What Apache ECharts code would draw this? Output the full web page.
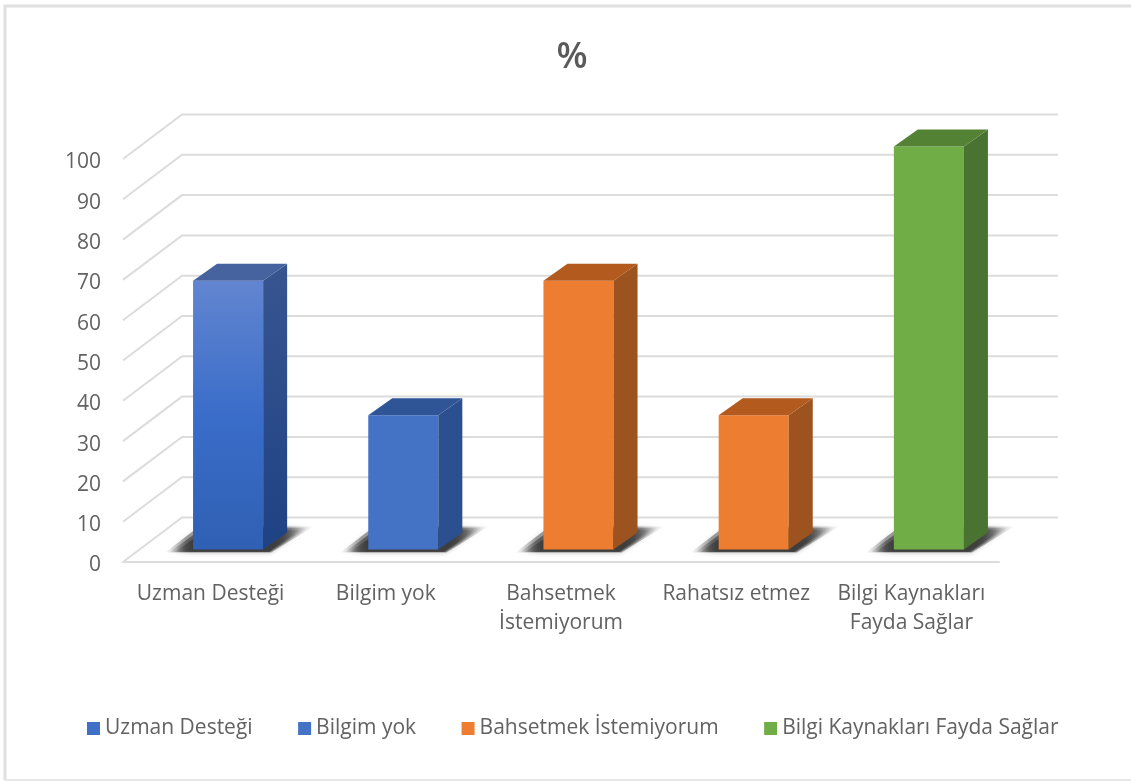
<!DOCTYPE html>
<html><head><meta charset="utf-8">
<style>html,body{margin:0;padding:0;background:#fff}#c{width:1131px;height:781px;filter:blur(0.45px)}</style>
<script src="https://cdn.jsdelivr.net/npm/echarts@6/dist/echarts.min.js"></script>
</head><body><div id="c"></div>
<script>
const titleText = '%';
const categories = ['Uzman Desteği','Bilgim yok','Bahsetmek\nİstemiyorum','Rahatsız etmez','Bilgi Kaynakları\nFayda Sağlar'];
const seriesNames = ['Uzman Desteği','Bilgim yok','Bahsetmek İstemiyorum','Rahatsız etmez','Bilgi Kaynakları Fayda Sağlar'];
const legendNames = ['Uzman Desteği','Bilgim yok','Bahsetmek İstemiyorum','Bilgi Kaynakları Fayda Sağlar'];
const values = [66.67,33.33,66.67,33.33,100];
const yTicks = [0,10,20,30,40,50,60,70,80,90,100];

const FONT = '"Open Sans", sans-serif';
const TXT = '#626262', GRID = '#dcdcdc';
const WALL_DX = 59, WALL_DY = -44.5;   // perspective depth of the plot box
const BAR_IN_X = 17.5, BAR_IN_Y = 12.5; // bar inset from the front of the floor
const BAR_DX = 24, BAR_DY = -17;        // bar depth
const SHADOW_LAYERS = [[0,.45],[4,.6],[8,.8]]; // inset, opacity of the soft floor shadow
const palette = [
  {legend:'#3f6fc6', front:{type:'linear',x:0,y:0,x2:0,y2:1,colorStops:[{offset:0,color:'#6285d0'},{offset:.5,color:'#3a6dc9'},{offset:1,color:'#2f60b4'}]},
   side:{type:'linear',x:0,y:0,x2:0,y2:1,colorStops:[{offset:0,color:'#385590'},{offset:1,color:'#1f4284'}]}, top:'#46639f'},
  {legend:'#4472c4', front:'#4472c4', side:'#2c4f8f', top:'#2f5597'},
  {legend:'#ed7d31', front:'#ed7d31', side:'#9c531f', top:'#b35a1f'},
  {legend:'#ed7d31', front:'#ed7d31', side:'#9c531f', top:'#b35a1f'},
  {legend:'#70ad47', front:'#70ad47', side:'#4a7230', top:'#548235'}
];

function wallItem(params, api){
  const cs = params.coordSys;
  const y = api.coord([0, api.value(0)])[1];
  const x0 = cs.x, bx = x0 + WALL_DX, by = y + WALL_DY, ex = cs.x + cs.width + WALL_DX;
  const style = {stroke:GRID, lineWidth:2, fill:null};
  return {type:'polyline', silent:true, shape:{points:[[x0,y],[bx,by],[ex,by]]}, style};
}
function barItem(pal){
  return function(params, api){
    const cat = api.value(0), val = api.value(1);
    const w = api.size([1,0])[0]*0.4;
    const c = api.coord([cat,val]), b = api.coord([cat,0]);
    const l = c[0]+BAR_IN_X-w/2, r = l+w, t = c[1]-BAR_IN_Y, bt = b[1]-BAR_IN_Y;
    const poly = (pts,fill)=>({type:'polygon',shape:{points:pts},style:{fill}});
    const shadows = SHADOW_LAYERS.map(([e,a])=>({type:'polygon',
      shape:{points:[[l-28+e*1.2,bt+3-e*.1],[r+8-e*.3,bt+3-e*.1],[r+50-e*1.6,bt-23+e*.4],[l+6+e,bt-23+e*.4]]},
      style:{fill:{type:'linear',x:0,y:0,x2:1,y2:0,colorStops:[
          {offset:0,color:'rgba(55,55,55,0)'},{offset:.14,color:'rgba(55,55,55,'+a+')'},
          {offset:.8,color:'rgba(55,55,55,'+a+')'},{offset:1,color:'rgba(55,55,55,0)'}]},
        shadowBlur:5,shadowColor:'rgba(90,90,90,.3)'}}));
    return {type:'group',children:shadows.concat([
      poly([[l,t],[r,t],[r,bt],[l,bt]],pal.front),
      poly([[r,t],[r+BAR_DX,t+BAR_DY],[r+BAR_DX,bt+BAR_DY],[r,bt]],pal.side),
      poly([[l,t],[l+BAR_DX,t+BAR_DY],[r+BAR_DX,t+BAR_DY],[r,t]],pal.top)
    ])};
  };
}
const wallSeries = {type:'custom',name:'wall',silent:true,z:1,clip:false,
  data:yTicks.map(v=>[v]),encode:{y:0},renderItem:wallItem};
const barSeries = seriesNames.map((n,i)=>({
  type:'custom',name:n,z:3,clip:false,
  itemStyle:{color:palette[i].legend},
  data:[[i,values[i]]],encode:{x:0,y:1},renderItem:barItem(palette[i])
}));
const chart = echarts.init(document.getElementById('c'),null,{renderer:'canvas'});
chart.setOption({
  animation:false,backgroundColor:'#fff',
  title:{text:titleText,left:567,top:35,textAlign:'center',
    textStyle:{fontFamily:FONT,fontSize:36,fontWeight:600,color:'#5a5a5a'}},
  legend:{data:legendNames,left:82,top:713,itemWidth:13,itemHeight:13,itemGap:45.5,icon:'rect',
    textStyle:{fontFamily:FONT,fontSize:21,color:TXT}},
  grid:{left:123,top:159,width:876,height:403,containLabel:false},
  xAxis:{type:'category',data:categories,
    axisLine:{show:true,lineStyle:{color:GRID,width:2}},axisTick:{show:false},splitLine:{show:false},
    axisLabel:{interval:0,margin:18,lineHeight:29,fontFamily:FONT,fontSize:21,color:TXT}},
  yAxis:{type:'value',min:0,max:100,interval:10,
    axisLine:{show:false},axisTick:{show:false},splitLine:{show:false},
    axisLabel:{margin:22,verticalAlign:'top',lineHeight:7,fontFamily:FONT,fontSize:21,color:TXT}},
  graphic:[{type:'polyline',silent:true,z:-1,shape:{points:[[5,780],[5,6],[1131,6]]},style:{stroke:'#e0e0e0',lineWidth:3,fill:null}},
           {type:'line',silent:true,z:-1,shape:{x1:5,y1:780,x2:1131,y2:780},style:{stroke:'#e8e8e8',lineWidth:2}}],
  series:[wallSeries].concat(barSeries)
});
</script></body></html>
